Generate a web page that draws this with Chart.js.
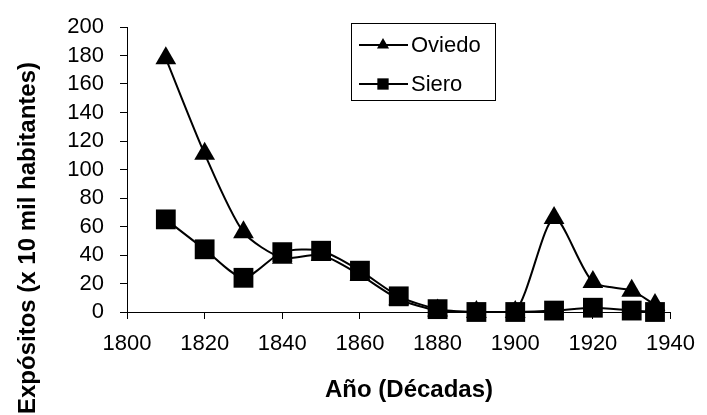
<!DOCTYPE html>
<html>
<head>
<meta charset="utf-8">
<script src="https://cdn.jsdelivr.net/npm/chart.js@4.4.1/dist/chart.umd.min.js"></script>
<style>
  html, body { margin: 0; padding: 0; background: #fff; }
  #chart { display: block; }
</style>
</head>
<body>
<canvas id="chart" width="707" height="415"></canvas>
<script>
// ======= Data =======
const years  = [1810, 1820, 1830, 1840, 1850, 1860, 1870, 1880, 1890, 1900, 1910, 1920, 1930, 1936];
const oviedo = [178, 111, 56, 38, 40, 26, 9, 1, 0, 0, 66, 21, 15, 5];
const siero  = [65, 44, 24, 42, 43, 29, 11, 2, 0, 0, 1, 3, 1, 0];
const seriesNames = ["Oviedo", "Siero"];
const xTitle = "Año (Décadas)";
const yTitle = "Expósitos (x 10 mil habitantes)";

const FONT = "'Liberation Sans', Arial, sans-serif";
const toPoints = (vals) => vals.map((v, i) => ({ x: years[i], y: v }));

// ======= Helpers =======
function marker(ctx, style, x, y, r){
  ctx.beginPath();
  if(style === "triangle"){
    ctx.moveTo(x, y - r);
    ctx.lineTo(x + r * 0.866, y + r / 2);
    ctx.lineTo(x - r * 0.866, y + r / 2);
    ctx.closePath();
  } else {
    const s = r * Math.SQRT1_2;
    ctx.rect(x - s, y - s, 2 * s, 2 * s);
  }
  ctx.fill();
}

// titles + boxed legend drawn on top of the chart
const decorations = {
  id: "decorations",
  afterDraw(chart){
    const ctx = chart.ctx;
    ctx.save();
    ctx.fillStyle = "#000";
    ctx.strokeStyle = "#000";

    // axis titles
    ctx.font = "bold 24px " + FONT;
    ctx.textAlign = "center";
    ctx.textBaseline = "middle";
    ctx.fillText(xTitle, 409, 390);
    ctx.save();
    ctx.translate(28, 238);
    ctx.rotate(-Math.PI / 2);
    ctx.fillText(yTitle, 0, 0);
    ctx.restore();

    // legend
    ctx.lineWidth = 1;
    ctx.strokeRect(351.5, 23.5, 144, 77);
    const rows = [45, 84];
    chart.data.datasets.forEach((ds, i) => {
      const y = rows[i];
      ctx.lineWidth = 2;
      ctx.beginPath();
      ctx.moveTo(359, y);
      ctx.lineTo(408, y);
      ctx.stroke();
      marker(ctx, ds.pointStyle, 383, y, ds.pointStyle === "triangle" ? 7 : 8);
      ctx.font = "22px " + FONT;
      ctx.textAlign = "left";
      ctx.fillText(ds.label, 411, y + 1);
    });
    ctx.restore();
  }
};

const bg = {
  id: "bg",
  beforeDraw(chart){
    const ctx = chart.ctx;
    ctx.save();
    ctx.fillStyle = "#fff";
    ctx.fillRect(0, 0, chart.width, chart.height);
    ctx.restore();
  }
};

// ======= Chart =======
new Chart(document.getElementById("chart"), {
  type: "line",
  data: {
    datasets: [
      {
        label: seriesNames[0],
        data: toPoints(oviedo),
        pointStyle: "triangle",
        pointRadius: 12,
        pointHoverRadius: 12,
      },
      {
        label: seriesNames[1],
        data: toPoints(siero),
        pointStyle: "rect",
        pointRadius: 14,
        pointHoverRadius: 14,
      }
    ].map(ds => Object.assign(ds, {
      borderColor: "#000",
      backgroundColor: "#000",
      pointBackgroundColor: "#000",
      pointBorderColor: "#000",
      pointBorderWidth: 0,
      borderWidth: 2,
      tension: 0.25,
      clip: false,
    }))
  },
  options: {
    responsive: false,
    animation: false,
    layout: { padding: { left: 0, top: 23, right: 30, bottom: 0 } },
    plugins: {
      legend: { display: false },
      tooltip: { enabled: false }
    },
    scales: {
      x: {
        type: "linear",
        min: 1800,
        max: 1940,
        ticks: {
          stepSize: 20, color: "#000", padding: 12, autoSkip: false,
          font: { family: FONT, size: 22 },
          callback: (v) => String(v)
        },
        grid: { drawOnChartArea: false, tickLength: 7, color: "#000" },
        border: { color: "#000", width: 1 },
        afterFit: (s) => { s.height = 103; }
      },
      y: {
        min: 0,
        max: 200,
        ticks: {
          stepSize: 20, color: "#000", padding: 16, autoSkip: false,
          font: { family: FONT, size: 22, lineHeight: 1 },
          callback: (v) => String(v)
        },
        grid: { drawOnChartArea: false, tickLength: 7, color: "#000" },
        border: { color: "#000", width: 1 },
        afterFit: (s) => { s.width = 127; }
      }
    }
  },
  plugins: [bg, decorations]
});
</script>
</body>
</html>
